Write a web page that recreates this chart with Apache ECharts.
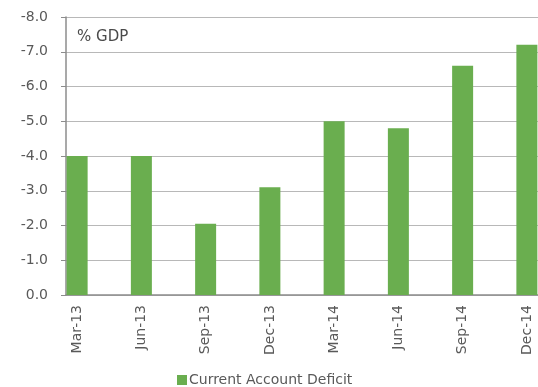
<!DOCTYPE html>
<html>
<head>
<meta charset="utf-8">
<script src="https://cdn.jsdelivr.net/npm/echarts@6/dist/echarts.min.js"></script>
<style>
  html, body { margin: 0; padding: 0; background: #ffffff; }
  #chart { width: 538px; height: 387px; }
</style>
</head>
<body>
<div id="chart"></div>
<script>
// Quarterly current account balance, % of GDP
const quarters = ['Mar-13', 'Jun-13', 'Sep-13', 'Dec-13', 'Mar-14', 'Jun-14', 'Sep-14', 'Dec-14'];
const deficitValues = [-4.0, -4.0, -2.05, -3.1, -5.0, -4.8, -6.6, -7.2];
const yTicks = { min: -8, max: 0, step: 1 };
const seriesName = 'Current Account Deficit';
const unitLabel = '% GDP';

const fontFamily = '"DejaVu Sans", Verdana, sans-serif';
const textColor = '#595959';
const barColor = '#6aae4f';

const chart = echarts.init(document.getElementById('chart'), null, { renderer: 'canvas' });

chart.setOption({
  animation: false,
  backgroundColor: '#ffffff',
  title: {
    text: unitLabel,
    left: 72,
    top: 25,
    textStyle: { fontFamily, fontSize: 15, fontWeight: 'normal', color: '#4a4a4a' }
  },
  legend: {
    data: [seriesName],
    left: 177,
    bottom: 0,
    padding: 0,
    itemWidth: 10,
    itemHeight: 10,
    itemGap: 4,
    icon: 'rect',
    textStyle: { fontFamily, fontSize: 14, color: textColor, padding: [0, 0, 0, -3] }
  },
  grid: [
    // frame: value axis, gridlines and baseline
    { left: 66, right: 0, top: 17, bottom: 92, outerBoundsMode: 'none' },
    // bars and category labels: bands run past the right edge of the frame
    { left: 45, width: 514, top: 17, bottom: 92, outerBoundsMode: 'none' }
  ],
  xAxis: [
    {
      gridIndex: 0,
      type: 'category',
      data: quarters,
      axisLine: { show: true, lineStyle: { color: '#8c8c8c', width: 1.5 } },
      axisTick: { show: false },
      axisLabel: { show: false },
      splitLine: { show: false }
    },
    {
      gridIndex: 1,
      type: 'category',
      data: quarters,
      axisLine: { show: false },
      axisTick: { show: false },
      axisLabel: {
        rotate: 90,
        margin: 10,
        fontFamily,
        fontSize: 14,
        color: textColor
      }
    }
  ],
  yAxis: [
    {
      gridIndex: 0,
      type: 'value',
      inverse: true,
      min: yTicks.min,
      max: yTicks.max,
      interval: yTicks.step,
      axisLine: { show: true, lineStyle: { color: '#8c8c8c', width: 1.5 } },
      axisTick: { show: true, length: 5, lineStyle: { color: '#8c8c8c' } },
      axisLabel: {
        margin: 18,
        fontFamily,
        fontSize: 14,
        color: textColor,
        formatter: v => v.toFixed(1)
      },
      splitLine: { show: true, lineStyle: { color: '#b8b8b8', width: 1.2 } }
    },
    {
      gridIndex: 1,
      type: 'value',
      inverse: true,
      min: yTicks.min,
      max: yTicks.max,
      interval: yTicks.step,
      show: false
    }
  ],
  series: [
    {
      name: seriesName,
      type: 'bar',
      xAxisIndex: 1,
      yAxisIndex: 1,
      data: deficitValues,
      barWidth: 21,
      itemStyle: { color: barColor },
      z: 3
    }
  ]
});
</script>
</body>
</html>
